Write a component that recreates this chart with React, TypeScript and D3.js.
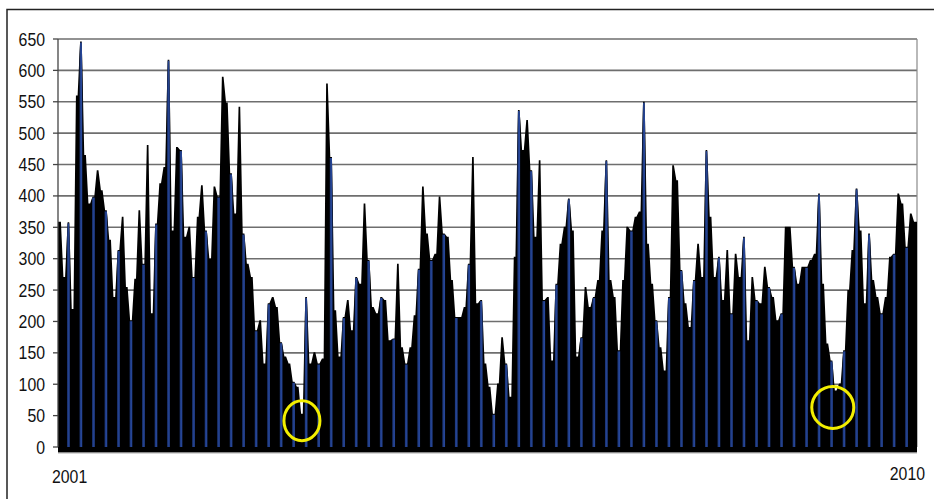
import React, { useEffect } from "react";
import * as d3 from "d3";

const yTicks = [0, 50, 100, 150, 200, 250, 300, 350, 400, 450, 500, 550, 600, 650];
const startLabel = "2001";
const endLabel = "2010";
const values = [
  359, 271, 358, 220, 560, 646, 465, 388, 399, 441, 409, 377, 330, 239, 314, 367, 255, 202, 268, 377,
  292, 481, 213, 356, 420, 446, 617, 345, 478, 473, 335, 351, 271, 367, 417, 345, 300, 415, 399, 590,
  549, 436, 372, 542, 340, 292, 271, 186, 202, 133, 229, 239, 223, 167, 144, 133, 104, 96, 53, 239,
  133, 151, 133, 141, 579, 462, 218, 144, 207, 234, 186, 271, 260, 388, 298, 223, 213, 239, 234, 170,
  173, 292, 159, 133, 159, 210, 284, 415, 340, 298, 308, 399, 340, 335, 266, 207, 207, 223, 292, 462,
  229, 234, 133, 96, 53, 101, 175, 133, 80, 303, 537, 473, 521, 441, 335, 457, 234, 239, 138, 260,
  324, 351, 396, 345, 144, 175, 255, 223, 239, 266, 345, 457, 266, 239, 154, 266, 351, 345, 367, 375,
  550, 324, 260, 202, 159, 122, 239, 449, 425, 282, 229, 191, 266, 324, 271, 473, 367, 271, 303, 234,
  314, 213, 308, 271, 335, 170, 271, 234, 229, 287, 255, 239, 202, 213, 351, 351, 287, 260, 287, 287,
  298, 308, 404, 260, 165, 138, 90, 101, 154, 250, 314, 412, 345, 229, 340, 266, 239, 213, 239, 303,
  308, 404, 388, 319, 372, 359,
];
// annotation circles, in data terms: [bar index, value]
const markers = [
  [58.5, 42],
  [185.8, 63],
];

const W = 934;
const H = 499;
const left = 58;
const right = 917;
const top = 39;
const bottom = 447;

function Label({ x, y, anchor, children }: { x: number; y: number; anchor: string; children: any }) {
  return (
    <g transform={`translate(${x},${y}) scale(0.88,1)`}>
      <text x={0} y={0} textAnchor={anchor} fontSize={18} fill="#111">
        {children}
      </text>
    </g>
  );
}

export default function App() {
  useEffect(() => {
    document.body.style.margin = "0";
  }, []);

  const y = d3.scaleLinear().domain([0, 650]).range([bottom, top]);
  const xi = d3.scaleLinear().domain([0, values.length]).range([left, right]);
  const bw = xi(1) - xi(0);

  // jagged envelope: each value drawn as a narrow peak at its bar centre
  const pts: [number, number][] = [];
  pts.push([0, values[0]]);
  values.forEach((v, i) => {
    pts.push([i + 0.3, v]);
    pts.push([i + 0.7, v]);
  });
  pts.push([values.length, values[values.length - 1]]);
  const area = d3
    .area<[number, number]>()
    .x((d) => xi(d[0]))
    .y0(bottom)
    .y1((d) => y(d[1]))
    .curve(d3.curveLinear);
  const d = area(pts) || "";

  return (
    <svg width={W} height={H} style={{ display: "block", fontFamily: "'Liberation Sans', Arial, sans-serif" }}>
      <defs>
        <clipPath id="env">
          <path d={d} />
        </clipPath>
        <linearGradient id="stripe" x1="0" x2="1" y1="0" y2="0">
          <stop offset="0" stopColor="#000" />
          <stop offset="0.3" stopColor="#1f3b82" />
          <stop offset="0.7" stopColor="#27479a" />
          <stop offset="1" stopColor="#000" />
        </linearGradient>
      </defs>
      <rect x={0} y={0} width={W} height={H} fill="#fff" />
      <rect x={7} y={9.5} width={940} height={500} fill="none" stroke="#222" strokeWidth={1.5} />
      {/* gridlines */}
      {yTicks.map((t) => (
        <line key={t} x1={left} x2={right} y1={y(t)} y2={y(t)} stroke="#6e6e6e" strokeWidth={1.6} />
      ))}
      <line x1={right} x2={right} y1={top} y2={bottom} stroke="#8a8a8a" strokeWidth={1.2} />
      {/* bars */}
      <path d={d} fill="#000" />
      <g clipPath="url(#env)">
        {values.map((v, i) =>
          i % 3 === 2 ? (
            <rect key={"n" + i} x={xi(i) + 0.2} y={y(v) + 1} width={bw - 0.4} height={bottom - y(v) - 1} fill="url(#stripe)" />
          ) : null
        )}
      </g>
      {/* x axis band (dense ticks) */}
      <rect x={left} y={bottom} width={right - left} height={5.5} fill="#000" />
      <line x1={left} x2={right} y1={bottom + 6} y2={bottom + 6} stroke="#999" strokeWidth={0.8} />
      {/* y axis */}
      <line x1={left} x2={left} y1={top} y2={bottom} stroke="#444" strokeWidth={1.3} />
      {yTicks.map((t) => (
        <g key={"t" + t}>
          <line x1={left - 5} x2={left} y1={y(t)} y2={y(t)} stroke="#444" strokeWidth={1.3} />
          <Label x={45} y={y(t) + 6.5} anchor="end">
            {t}
          </Label>
        </g>
      ))}
      <Label x={52} y={483} anchor="start">
        {startLabel}
      </Label>
      <Label x={925} y={480} anchor="end">
        {endLabel}
      </Label>
      {/* annotations */}
      {markers.map(([mi, mv], k) => (
        <ellipse key={k} cx={xi(mi)} cy={y(mv)} rx={18 + k * 3} ry={20 + k} fill="none" stroke="#f2ee00" strokeWidth={3} />
      ))}
    </svg>
  );
}
